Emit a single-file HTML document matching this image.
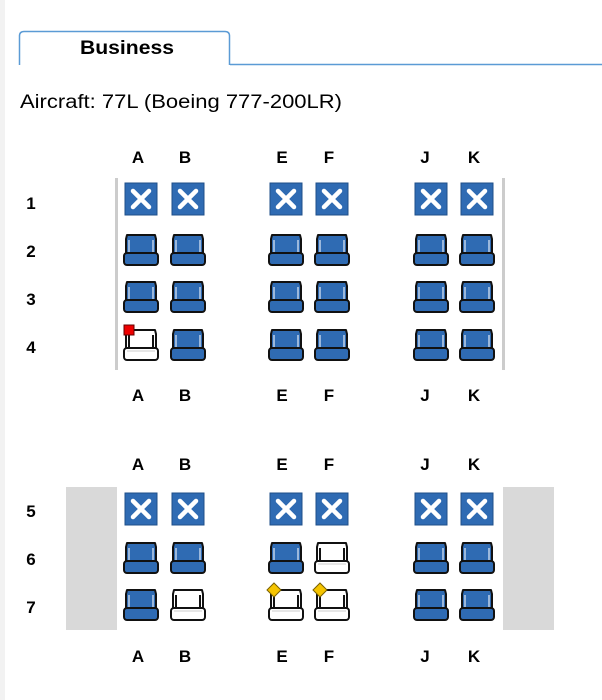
<!DOCTYPE html>
<html><head><style>
body{margin:0;width:602px;height:700px;background:#fff;font-family:"Liberation Sans",Arial,sans-serif;overflow:hidden;position:relative}
</style></head><body>
<svg width="602" height="700" xmlns="http://www.w3.org/2000/svg" style="position:absolute;left:0;top:0" font-family="Liberation Sans, Arial, sans-serif">
<defs>
<g id="x">
<rect x="-16" y="-16" width="32" height="32" fill="#2f6bb3" stroke="#1f4f8a" stroke-width="1"/>
<path d="M-8,-8 L8,8 M8,-8 L-8,8" stroke="#fff" stroke-width="4.5" stroke-linecap="round"/>
</g>
<g id="c">
<path d="M-14,-15 L14,-15 L15,-11 L15,5 L-15,5 L-15,-11 Z" fill="#2f6bb3" stroke="#111" stroke-width="2" stroke-linejoin="round"/>
<line x1="-12" y1="-10" x2="-12" y2="4" stroke="#9bb8dc" stroke-width="2"/>
<line x1="12" y1="-10" x2="12" y2="4" stroke="#9bb8dc" stroke-width="2"/>
<rect x="-17" y="3" width="34" height="12" rx="3" fill="#2f6bb3" stroke="#111" stroke-width="2"/>
</g>
<g id="w">
<path d="M-14,-15 L14,-15 L15,-11 L15,5 L-15,5 L-15,-11 Z" fill="#fff" stroke="#111" stroke-width="2" stroke-linejoin="round"/>
<line x1="-12" y1="-10" x2="-12" y2="4" stroke="#111" stroke-width="2"/>
<line x1="12" y1="-10" x2="12" y2="4" stroke="#111" stroke-width="2"/>
<rect x="-17" y="3" width="34" height="12" rx="3" fill="#fff" stroke="#111" stroke-width="2"/>
<line x1="-14" y1="6" x2="14" y2="6" stroke="#ccc" stroke-width="1"/>
</g>
</defs>
<rect x="0" y="0" width="5" height="700" fill="#f2f2f2"/>
<!-- tab -->
<line x1="230" y1="64.5" x2="602" y2="64.5" stroke="#5b9bd5" stroke-width="1.5"/>
<path d="M19.5,65 L19.5,36 Q19.5,31.5 24,31.5 L225,31.5 Q229.5,31.5 229.5,36 L229.5,65" fill="#fff" stroke="#5b9bd5" stroke-width="1.5"/>
<text x="80" y="54" font-size="19" font-weight="bold" fill="#000" textLength="94" lengthAdjust="spacingAndGlyphs">Business</text>
<text x="20" y="108" font-size="19" fill="#000" textLength="322" lengthAdjust="spacingAndGlyphs">Aircraft: 77L (Boeing 777-200LR)</text>
<g font-size="17" font-weight="bold" text-anchor="middle" fill="#000">
<text x="138" y="163">A</text><text x="185" y="163">B</text><text x="282" y="163">E</text><text x="329" y="163">F</text><text x="425" y="163">J</text><text x="474" y="163">K</text>
<text x="138" y="401">A</text><text x="185" y="401">B</text><text x="282" y="401">E</text><text x="329" y="401">F</text><text x="425" y="401">J</text><text x="474" y="401">K</text>
<text x="138" y="470">A</text><text x="185" y="470">B</text><text x="282" y="470">E</text><text x="329" y="470">F</text><text x="425" y="470">J</text><text x="474" y="470">K</text>
<text x="138" y="662">A</text><text x="185" y="662">B</text><text x="282" y="662">E</text><text x="329" y="662">F</text><text x="425" y="662">J</text><text x="474" y="662">K</text>
<text x="31" y="209">1</text><text x="31" y="257">2</text><text x="31" y="305">3</text><text x="31" y="353">4</text>
<text x="31" y="517">5</text><text x="31" y="565">6</text><text x="31" y="613">7</text>
</g>
<rect x="115" y="178" width="3" height="192" fill="#ccc"/>
<rect x="502" y="178" width="3" height="192" fill="#ccc"/>
<rect x="66" y="487" width="51" height="143" fill="#d9d9d9"/>
<rect x="503" y="487" width="51" height="143" fill="#d9d9d9"/>
<use href="#x" x="141" y="199"/><use href="#x" x="188" y="199"/><use href="#x" x="286" y="199"/><use href="#x" x="332" y="199"/><use href="#x" x="431" y="199"/><use href="#x" x="477" y="199"/>
<use href="#c" x="141" y="250"/><use href="#c" x="188" y="250"/><use href="#c" x="286" y="250"/><use href="#c" x="332" y="250"/><use href="#c" x="431" y="250"/><use href="#c" x="477" y="250"/>
<use href="#c" x="141" y="297"/><use href="#c" x="188" y="297"/><use href="#c" x="286" y="297"/><use href="#c" x="332" y="297"/><use href="#c" x="431" y="297"/><use href="#c" x="477" y="297"/>
<use href="#w" x="141" y="345"/><use href="#c" x="188" y="345"/><use href="#c" x="286" y="345"/><use href="#c" x="332" y="345"/><use href="#c" x="431" y="345"/><use href="#c" x="477" y="345"/>
<rect x="124" y="325" width="10" height="10" fill="#e00" stroke="#600" stroke-width="1"/>
<use href="#x" x="141" y="509"/><use href="#x" x="188" y="509"/><use href="#x" x="286" y="509"/><use href="#x" x="332" y="509"/><use href="#x" x="431" y="509"/><use href="#x" x="477" y="509"/>
<use href="#c" x="141" y="558"/><use href="#c" x="188" y="558"/><use href="#c" x="286" y="558"/><use href="#w" x="332" y="558"/><use href="#c" x="431" y="558"/><use href="#c" x="477" y="558"/>
<use href="#c" x="141" y="605"/><use href="#w" x="188" y="605"/><use href="#w" x="286" y="605"/><use href="#w" x="332" y="605"/><use href="#c" x="431" y="605"/><use href="#c" x="477" y="605"/>
<path d="M274,583 L281,590 L274,597 L267,590 Z" fill="#f5c400" stroke="#7a6000" stroke-width="1"/>
<path d="M320,583 L327,590 L320,597 L313,590 Z" fill="#f5c400" stroke="#7a6000" stroke-width="1"/>
</svg>
</body></html>
